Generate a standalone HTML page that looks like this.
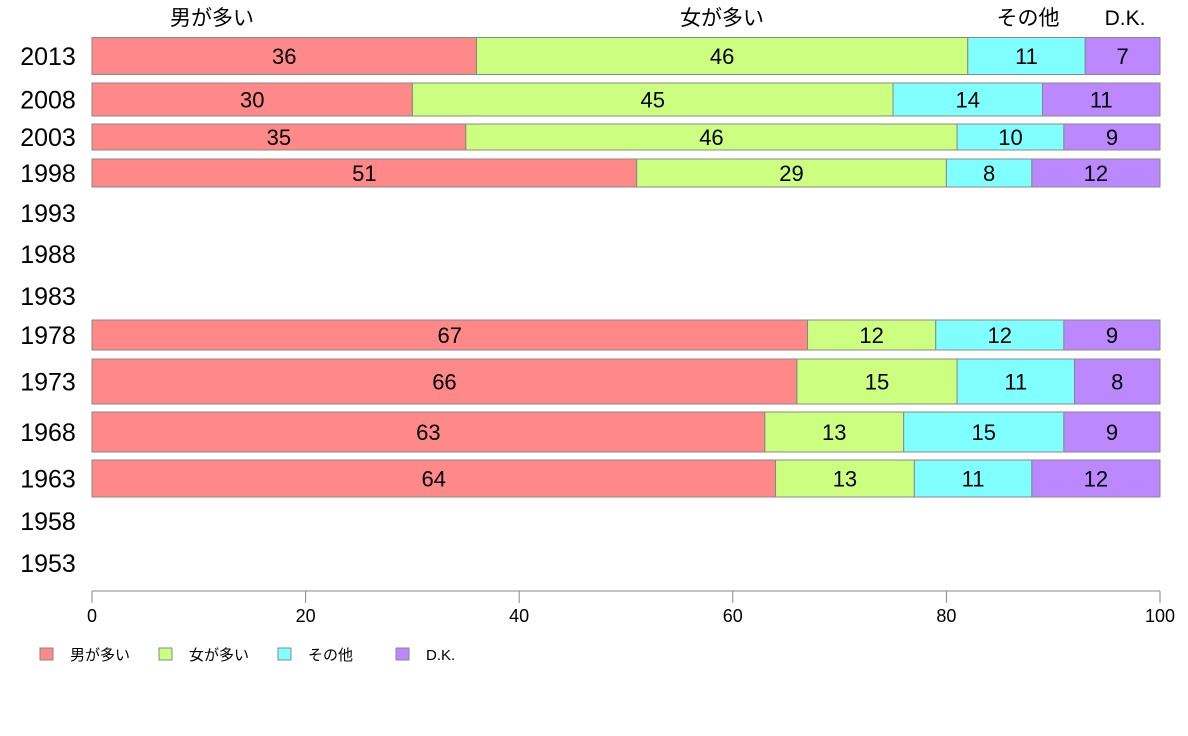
<!DOCTYPE html>
<html><head><meta charset="utf-8"><style>
body{margin:0;background:#fff;}
svg{display:block;font-family:"Liberation Sans","Noto Sans CJK JP",sans-serif;}
</style></head><body>
<svg id="chart" width="1188" height="736"></svg>
<script>
const years=["2013","2008","2003","1998","1993","1988","1983","1978","1973","1968","1963","1958","1953"];
const male=[36,30,35,51,null,null,null,67,66,63,64,null,null];
const female=[46,45,46,29,null,null,null,12,15,13,13,null,null];
const other=[11,14,10,8,null,null,null,12,11,15,11,null,null];
const dk=[7,11,9,12,null,null,null,9,8,9,12,null,null];
const seriesNames=["男が多い","女が多い","その他","D.K."];
const xTicks=[0,20,40,60,80,100];
// layout (row centres and thickness in px)
const rowY=[56,99.5,137,173,213,254,296,335,381.5,432,478.5,521,563];
const rowH=[37,33,26,28,0,0,0,30,45,40,37,0,0];
const colors=["#FF8888","#CCFF80","#80FFFF","#BB88FF"];
const NS="http://www.w3.org/2000/svg";
const svg=document.getElementById("chart");
const x=v=>92+v*10.68;
function mk(tag,attrs,parent){const e=document.createElementNS(NS,tag);for(const k in attrs)e.setAttribute(k,attrs[k]);(parent||svg).appendChild(e);return e;}
const series=[male,female,other,dk];
// header labels
const heads=[[212,"男が多い"],[722,"女が多い"],[1028,"その他"],[1125,"D.K."]];
heads.forEach((h,i)=>{const t=mk("text",{x:h[0],y:25,"text-anchor":"middle","font-size":21,fill:"#000"});


t.textContent=h[1];});
years.forEach((yr,i)=>{
 const t=mk("text",{x:48,y:rowY[i]+9,"text-anchor":"middle","font-size":25,fill:"#000"});
 
 
 t.textContent=yr;
 if(male[i]==null)return;
 let acc=0;
 series.forEach((s,j)=>{
  const v=s[i];
  const r=mk("rect",{x:x(acc),y:rowY[i]-rowH[i]/2,width:x(acc+v)-x(acc),height:rowH[i],fill:colors[j],stroke:"#888","stroke-width":1});
  
  
  const l=mk("text",{x:(x(acc)+x(acc+v))/2,y:rowY[i]+8,"text-anchor":"middle","font-size":22,fill:"#000"});
  
  
  l.textContent=v;
  acc+=v;
 });
});
const ax=mk("line",{x1:x(0),x2:x(100),y1:591,y2:591,stroke:"#888","stroke-width":1});


xTicks.forEach(v=>{
 const tk=mk("line",{x1:x(v),x2:x(v),y1:591,y2:603,stroke:"#888"});
 
 
 const t=mk("text",{x:x(v),y:622,"text-anchor":"middle","font-size":18,fill:"#000"});
 
 
 t.textContent=v;
});
const legX=[40,159,278,396];
seriesNames.forEach((n,j)=>{
 const r=mk("rect",{x:legX[j],y:648,width:13,height:12,fill:colors[j],stroke:"#888"});
 
 
 const t=mk("text",{x:legX[j]+30,y:660,"font-size":15,fill:"#000"});
 
 
 t.textContent=n;
});
</script>
</body></html>
